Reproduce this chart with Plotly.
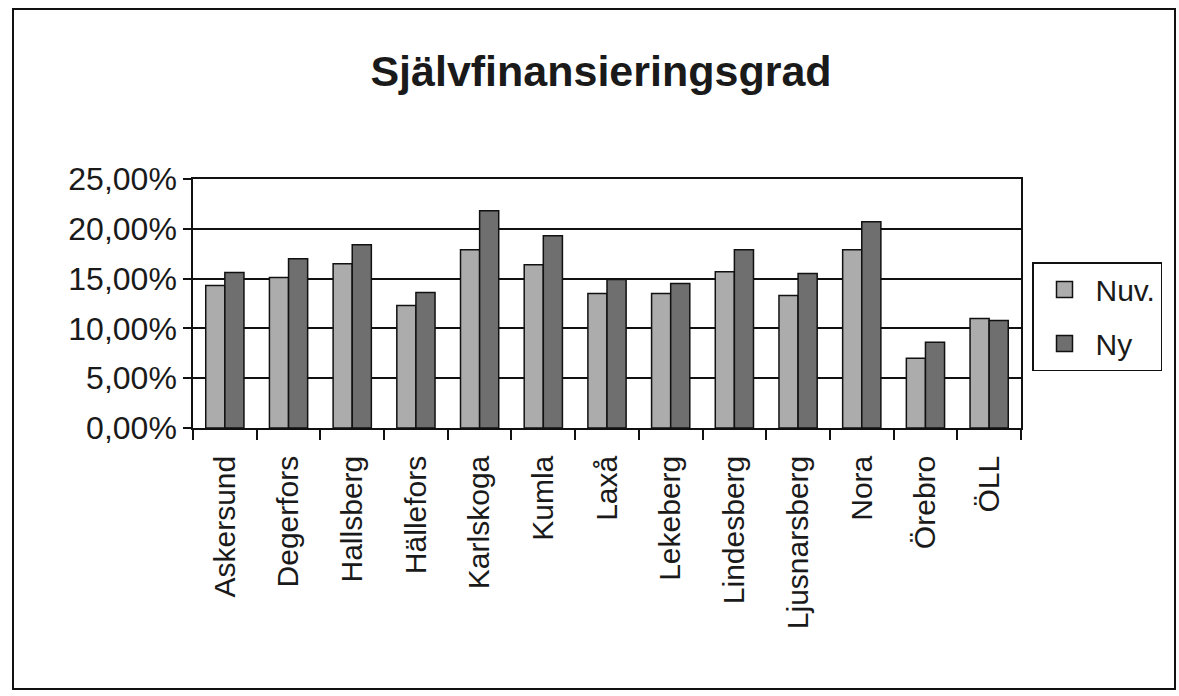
import plotly.graph_objects as go

categories = ["Askersund", "Degerfors", "Hallsberg", "Hällefors", "Karlskoga", "Kumla",
              "Laxå", "Lekeberg", "Lindesberg", "Ljusnarsberg", "Nora", "Örebro", "ÖLL"]
nuv = [14.3, 15.1, 16.5, 12.3, 17.9, 16.4, 13.5, 13.5, 15.7, 13.3, 17.9, 7.0, 11.0]
ny = [15.6, 17.0, 18.4, 13.6, 21.8, 19.3, 14.9, 14.5, 17.9, 15.5, 20.7, 8.6, 10.8]
series_names = ["Nuv.", "Ny"]
y_ticks = [0, 0.05, 0.10, 0.15, 0.20, 0.25]

W, H = 1179, 696
L, R, T, B = 193, 158, 179, 268
FONT = "Liberation Sans, Arial, sans-serif"
col_nuv = "#acacac"
col_ny = "#6f6f6f"

fig = go.Figure()
fig.add_trace(go.Bar(x=categories, y=[v / 100 for v in nuv], name=series_names[0],
                     marker=dict(color=col_nuv, line=dict(color="#111111", width=1.5)),
                     showlegend=False))
fig.add_trace(go.Bar(x=categories, y=[v / 100 for v in ny], name=series_names[1],
                     marker=dict(color=col_ny, line=dict(color="#111111", width=1.5)),
                     showlegend=False))
# legend entries
for nm, c in zip(series_names, [col_nuv, col_ny]):
    fig.add_trace(go.Scatter(x=[None], y=[None], mode="markers", name=nm, legendgroup=nm,
                             marker=dict(symbol="square", size=16, color=c,
                                         line=dict(color="#111111", width=1.5))))

pw = W - L - R
ph = H - T - B
def px2paper_x(px):
    return (px - L) / pw
def px2paper_y(py):
    return (H - B - py) / ph

fig.add_shape(type="rect", xref="paper", yref="paper",
              x0=px2paper_x(13), x1=px2paper_x(1175), y0=px2paper_y(689), y1=px2paper_y(9),
              line=dict(color="#111111", width=2), layer="below")

fig.update_layout(
    width=W, height=H,
    margin=dict(l=L, r=R, t=T, b=B, autoexpand=False),
    paper_bgcolor="white", plot_bgcolor="white",
    separators=", ",
    barmode="group", bargap=0.4, bargroupgap=0,
    title=dict(text="<b>Självfinansieringsgrad</b>", x=601 / W, xanchor="center",
               y=1 - 71 / H, yanchor="middle",
               font=dict(family=FONT, size=43, color="#1a1a1a")),
    font=dict(family=FONT, color="#1a1a1a"),
    legend=dict(x=px2paper_x(1032), y=px2paper_y(262), xanchor="left", yanchor="top",
                bordercolor="#111111", borderwidth=1.5, bgcolor="white",
                font=dict(family=FONT, size=30, color="#1a1a1a"),
                traceorder="grouped", tracegroupgap=12, itemwidth=52),
)
fig.update_yaxes(range=[0, 0.25], tickvals=y_ticks, tickformat=".2%",
                 showgrid=True, gridcolor="#111111", gridwidth=1.5,
                 showline=True, linecolor="#111111", linewidth=1.5, mirror=True,
                 ticks="outside", ticklen=8, tickcolor="#111111", tickwidth=1.5,
                 tickfont=dict(family=FONT, size=32, color="#1a1a1a"),
                 zeroline=False)
fig.update_xaxes(tickangle=-90, tickson="boundaries", ticks="outside", ticklen=10,
                 tickcolor="#111111", tickwidth=1.5,
                 showline=True, linecolor="#111111", linewidth=1.5, mirror=True,
                 tickfont=dict(family=FONT, size=30, color="#1a1a1a"),
                 ticklabelstandoff=14)

fig.write_html("out.html", config={"displayModeBar": False})

# remove default page margin so the figure sits at the window origin
with open("out.html", encoding="utf-8") as f:
    html = f.read()
html = html.replace("<head>", "<head><style>html,body{margin:0;padding:0;overflow:hidden}</style>", 1)
with open("out.html", "w", encoding="utf-8") as f:
    f.write(html)
